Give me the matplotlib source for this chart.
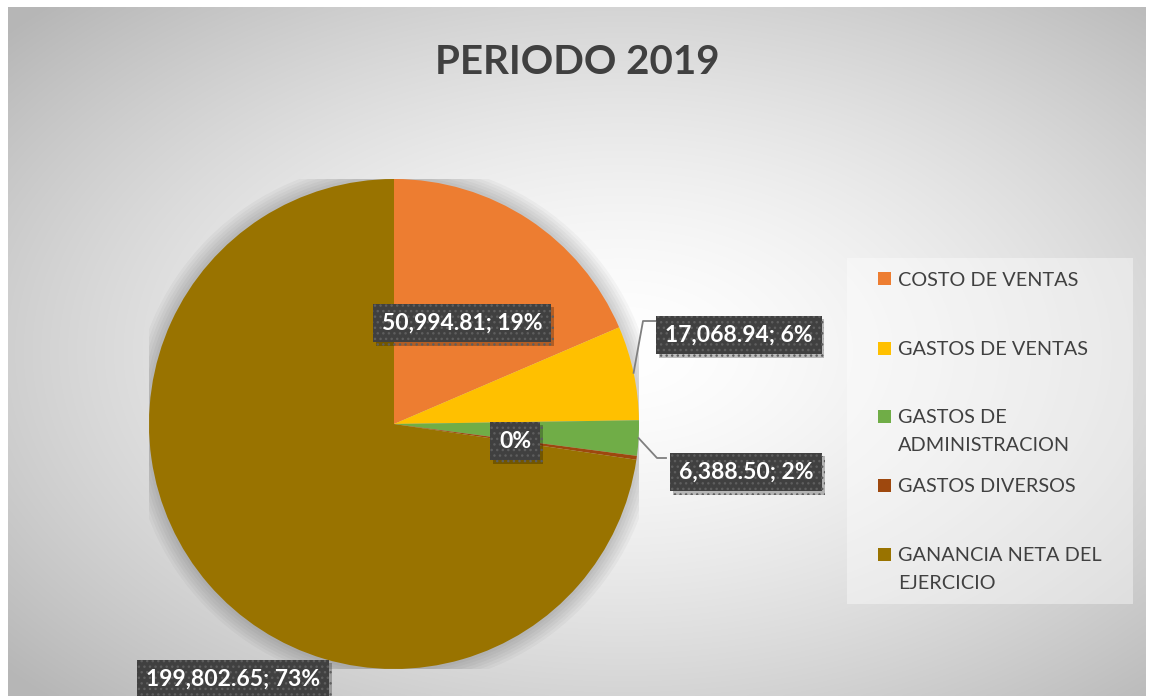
"""Pie chart: PERIODO 2019."""

import matplotlib.pyplot as plt
import numpy as np
from matplotlib import patheffects
from matplotlib.patches import Circle, Rectangle

plt.rcParams['font.family'] = ['Lato', 'DejaVu Sans']

W, H = 1149, 696

categories = ['COSTO DE VENTAS', 'GASTOS DE VENTAS', 'GASTOS DE\nADMINISTRACION',
              'GASTOS DIVERSOS', 'GANANCIA NETA DEL\nEJERCICIO']
values = [50994.81, 17068.94, 6388.50, 700.0, 199802.65]
show_value = [True, True, True, False, True]
colors = ['#ED7D31', '#FFC000', '#70AD47', '#9E480E', '#997300']
title = 'PERIODO 2019'

# label box centres in pixels (top-left origin) and optional leader elbows
label_pos = [(462, 323), (739, 335), (746, 472), (515, 441), (233, 679)]
leader_elbow = [None, [(643, 321), (656, 321)], [(657, 458), (666, 458)], None, None]

fig = plt.figure(figsize=(W / 100, H / 100), dpi=100)
fig.patch.set_facecolor('white')

# radial gradient background of the chart area
bg = fig.add_axes([8 / W, 0, (1146 - 8) / W, (H - 7) / H])
bg.axis('off')
gx, gy = np.meshgrid(np.linspace(0, 1, 400), np.linspace(0, 1, 300))
dist = np.sqrt(((gx - 0.54) / 0.62) ** 2 + ((gy - 0.5) / 0.62) ** 2)
shade = 1.0 - 0.23 * np.clip(dist, 0, 1.15) ** 1.5
bg.imshow(np.dstack([shade] * 3), aspect='auto', extent=(0, 1, 0, 1),
          interpolation='bilinear')
bg.set_xlim(0, 1)
bg.set_ylim(0, 1)

fig.text(577 / W, 1 - 62 / H, title, ha='center', va='center',
         fontsize=29, fontweight='bold', color='#404040')

# pie
cx, cy, rad = 394, 424, 245
ax = fig.add_axes([(cx - rad) / W, (H - cy - rad) / H, 2 * rad / W, 2 * rad / H])

for i in range(6):
    ax.add_patch(Circle((0, 0), 1.0 + 0.012 * (i + 1), color='black',
                        alpha=0.03, lw=0, zorder=0))

wedges, _ = ax.pie(values, colors=colors, startangle=90, counterclock=False,
                   radius=1, wedgeprops=dict(linewidth=0))
ax.axis('off')
ax.set_xlim(-1, 1)
ax.set_ylim(-1, 1)


def px2data(p):
    return ((p[0] - cx) / rad, (cy - p[1]) / rad)


total = sum(values)
for i, w in enumerate(wedges):
    pct = values[i] / total * 100
    txt = f'{values[i]:,.2f}; {pct:.0f}%' if show_value[i] else f'{pct:.0f}%'
    x, y = px2data(label_pos[i])
    if leader_elbow[i] is not None:
        mid = np.deg2rad((w.theta1 + w.theta2) / 2)
        pts = [(np.cos(mid), np.sin(mid))] + [px2data(p) for p in leader_elbow[i]]
        ax.plot([p[0] for p in pts], [p[1] for p in pts], color='#7f7f7f',
                lw=1.3, clip_on=False, zorder=3)
    t = ax.text(x, y, txt, ha='center', va='center', fontsize=16.5,
                fontweight='bold', color='white', zorder=5,
                bbox=dict(boxstyle='square,pad=0.38', facecolor='#404040',
                          edgecolor='#5e5e5e', linewidth=0, hatch='...'))
    t.get_bbox_patch().set_path_effects(
        [patheffects.SimplePatchShadow(offset=(2, -2.5), alpha=0.25,
                                       shadow_rgbFace='black'),
         patheffects.Normal()])

# legend
fig.add_artist(Rectangle((847 / W, 1 - 604 / H), (1133 - 847) / W,
                         (604 - 258) / H, transform=fig.transFigure,
                         facecolor='white', alpha=0.4, linewidth=0))
legend_y = [279, 348, 416, 485, 554]
for lab, col, ly in zip(categories, colors, legend_y):
    fig.add_artist(Rectangle((878 / W, 1 - (ly + 6.5) / H), 13 / W, 13 / H,
                             transform=fig.transFigure, facecolor=col,
                             linewidth=0))
    fig.text(898 / W, 1 - (ly - 7) / H, lab, ha='left', va='top',
             fontsize=14.3, color='#404040', linespacing=1.78)

fig.savefig('out.png', dpi=100)
